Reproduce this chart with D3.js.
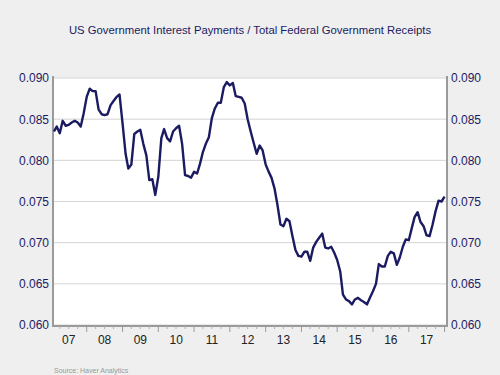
<!DOCTYPE html>
<html>
<head>
<meta charset="utf-8">
<script src="https://cdn.jsdelivr.net/npm/d3@7"></script>
<style>
  body { margin: 0; background: #efefef; }
  svg { display: block; font-family: "Liberation Sans", Arial, sans-serif; }
</style>
</head>
<body>
<div id="chart"></div>
<script>
// monthly ratio, Feb 2007 .. Jan 2018
const startMonth = new Date(2007, 1, 1);
const ratioValues = [
  0.0835, 0.0841, 0.0833, 0.0848, 0.0842, 0.0843, 0.0846, 0.0848, 0.0846, 0.0841,
  0.0857, 0.0877, 0.0887, 0.0884, 0.0884, 0.0862, 0.0856, 0.0855, 0.0856, 0.0867,
  0.0872, 0.0877, 0.0880, 0.0845, 0.0808, 0.0790, 0.0795, 0.0832, 0.0835, 0.0837,
  0.0820, 0.0806, 0.0776, 0.0777, 0.0758, 0.0780, 0.0827, 0.0838, 0.0827, 0.0823,
  0.0835, 0.0839, 0.0842, 0.0820, 0.0782, 0.0781, 0.0779, 0.0786, 0.0784, 0.0795,
  0.0810, 0.0820, 0.0828, 0.0851, 0.0863, 0.0870, 0.0870, 0.0889, 0.0895, 0.0891,
  0.0894, 0.0878, 0.0877, 0.0876, 0.0869, 0.0850, 0.0835, 0.0821, 0.0808, 0.0818,
  0.0812, 0.0795, 0.0786, 0.0779, 0.0766, 0.0746, 0.0722, 0.0720, 0.0729, 0.0726,
  0.0708, 0.0691, 0.0684, 0.0683, 0.0689, 0.0689, 0.0678, 0.0694, 0.0701, 0.0706,
  0.0711, 0.0694, 0.0693, 0.0695, 0.0688, 0.0679, 0.0665, 0.0637, 0.0631, 0.0629,
  0.0625, 0.0631, 0.0633, 0.0630, 0.0628, 0.0625, 0.0633, 0.0641, 0.0650, 0.0674,
  0.0671, 0.0671, 0.0684, 0.0689, 0.0687, 0.0673, 0.0682, 0.0695, 0.0704, 0.0703,
  0.0718, 0.0731, 0.0737, 0.0725, 0.0720, 0.0709, 0.0708, 0.0722, 0.0738, 0.0751,
  0.0750, 0.0756
];
const yTicks = [0.060, 0.065, 0.070, 0.075, 0.080, 0.085, 0.090];
const yearLabels = ["07", "08", "09", "10", "11", "12", "13", "14", "15", "16", "17"];

const data = ratioValues.map((v, i) => ({
  date: d3.timeMonth.offset(startMonth, i),
  value: v
}));

const width = 500, height = 375;
const plotLeft = 53, plotRight = 447, plotTop = 78, plotBottom = 325;
const navy = "#1b1b62";

const svg = d3.select("#chart").append("svg")
  .attr("width", width)
  .attr("height", height);

const x = d3.scaleTime()
  .domain([new Date(2007, 0, 22), new Date(2018, 0, 26)])
  .range([plotLeft, plotRight]);

const y = d3.scaleLinear()
  .domain([0.060, 0.090])
  .range([plotBottom, plotTop]);

// plot background
svg.append("rect")
  .attr("x", plotLeft).attr("y", plotTop)
  .attr("width", plotRight - plotLeft).attr("height", plotBottom - plotTop)
  .attr("fill", "#fff");

// title
svg.append("text")
  .attr("x", 250).attr("y", 34)
  .attr("text-anchor", "middle")
  .attr("font-size", 11.3)
  .attr("fill", navy)
  .text("US Government Interest Payments / Total Federal Government Receipts");

// grid
svg.append("g")
  .selectAll("line")
  .data(yTicks)
  .enter().append("line")
  .attr("x1", plotLeft).attr("x2", plotRight)
  .attr("y1", d => y(d)).attr("y2", d => y(d))
  .attr("stroke", "#d4d4d4")
  .attr("stroke-width", 1);

// y axes
const fmt = d3.format(".3f");
const yLeft = svg.append("g")
  .attr("transform", `translate(${plotLeft},0)`)
  .call(d3.axisLeft(y).tickValues(yTicks).tickFormat(fmt).tickSize(0).tickPadding(4));
const yRight = svg.append("g")
  .attr("transform", `translate(${plotRight},0)`)
  .call(d3.axisRight(y).tickValues(yTicks).tickFormat(fmt).tickSize(0).tickPadding(4));

[yLeft, yRight].forEach(a => {
  a.select(".domain").remove();
  a.selectAll("text").attr("font-size", 12).attr("fill", navy).attr("font-family", "Liberation Sans, Arial, sans-serif");
});

// frame (left, right, bottom)
svg.append("path")
  .attr("d", `M${plotLeft},${plotTop - 2}V${plotBottom + 1}H${plotRight}V${plotTop - 2}`)
  .attr("fill", "none")
  .attr("stroke", "#9a9a9a")
  .attr("stroke-width", 2);

// x axis: year ticks, quarterly minor ticks, labels in mid-year
const years = d3.timeYear.range(new Date(2008, 0, 1), new Date(2018, 0, 2));
const quarters = d3.timeMonth.every(3).range(x.domain()[0], x.domain()[1])
  .filter(d => d.getMonth() !== 0);

const xAxis = svg.append("g").attr("transform", `translate(0,${plotBottom + 1})`);
xAxis.selectAll(".major")
  .data(years)
  .enter().append("line")
  .attr("x1", d => x(d)).attr("x2", d => x(d))
  .attr("y1", 0).attr("y2", 6)
  .attr("stroke", "#9a9a9a");
xAxis.selectAll(".minor")
  .data(quarters)
  .enter().append("line")
  .attr("x1", d => x(d)).attr("x2", d => x(d))
  .attr("y1", 0).attr("y2", 3)
  .attr("stroke", "#b0b0b0");
xAxis.selectAll("text")
  .data(yearLabels)
  .enter().append("text")
  .attr("x", (d, i) => x(new Date(2007 + i, 6, 2)))
  .attr("y", 18)
  .attr("text-anchor", "middle")
  .attr("font-size", 12)
  .attr("fill", "#222")
  .text(d => d);

// series line
const line = d3.line()
  .x(d => x(d.date))
  .y(d => y(d.value));

svg.append("path")
  .datum(data)
  .attr("d", line)
  .attr("fill", "none")
  .attr("stroke", navy)
  .attr("stroke-width", 2.4)
  .attr("stroke-linejoin", "round");

// source note
svg.append("text")
  .attr("x", 54).attr("y", 373)
  .attr("font-size", 7)
  .attr("fill", "#999")
  .text("Source:  Haver Analytics");
</script>
</body>
</html>
